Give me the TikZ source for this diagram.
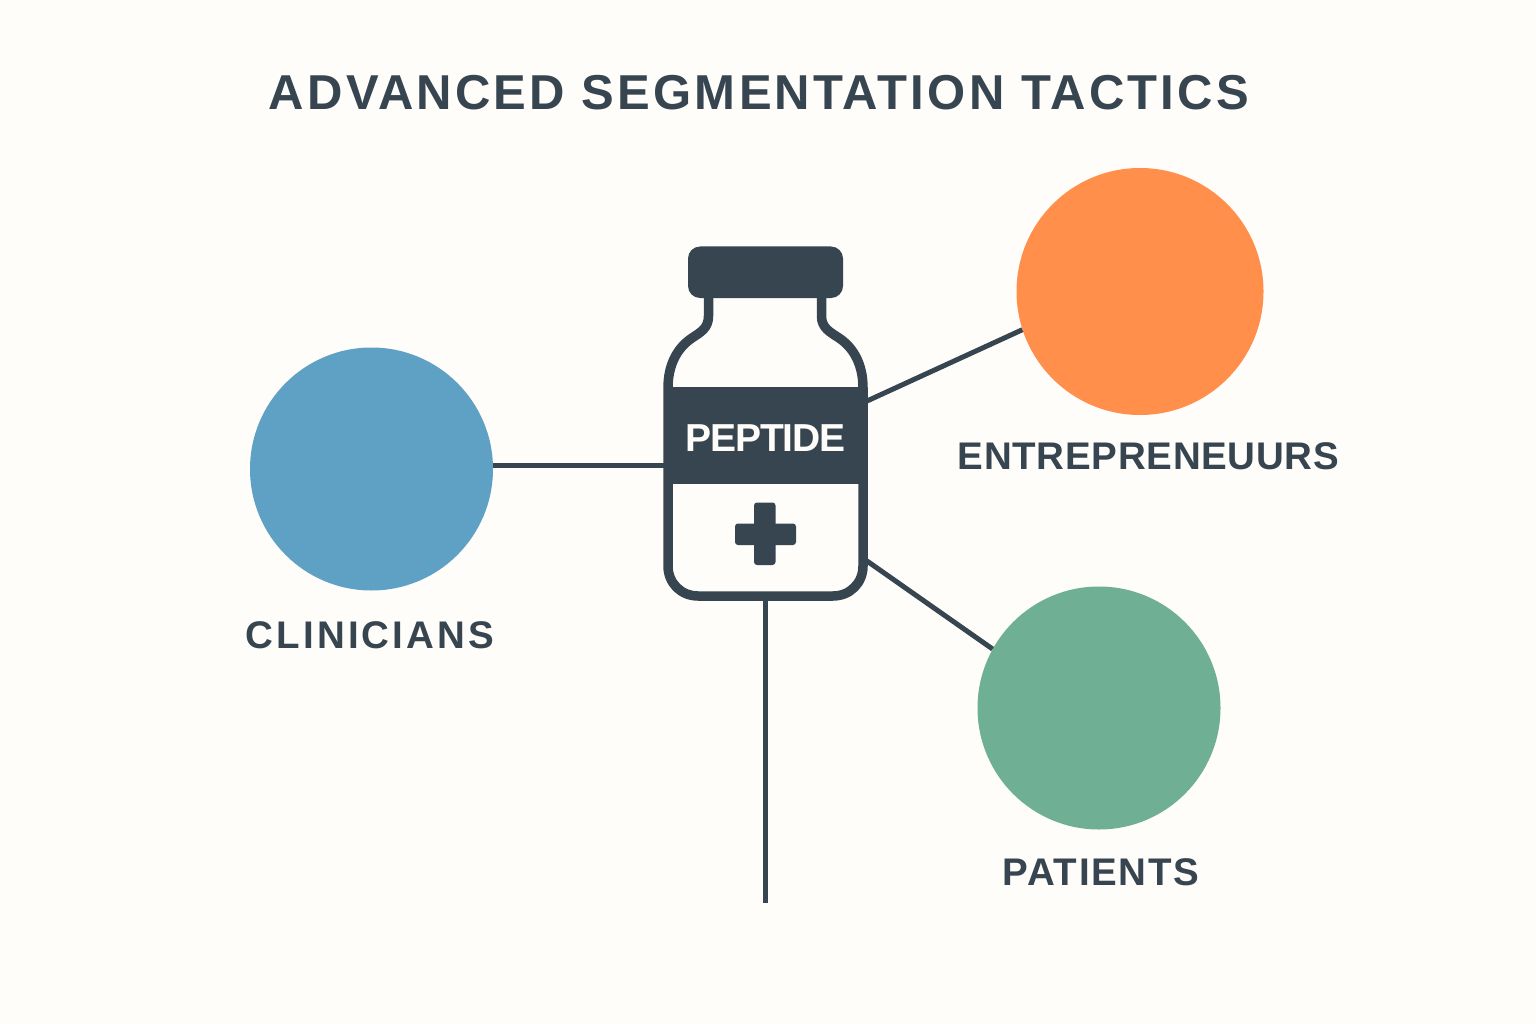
\documentclass[tikz,border=0pt]{standalone}
\usepackage{fontspec}
\setmainfont{Liberation Sans}
\newfontfamily\titlefont[LetterSpace=6.5]{Liberation Sans Bold}
\newfontfamily\groupfont{Liberation Sans Bold}
\newfontfamily\vialfont[LetterSpace=-3]{Liberation Sans Bold}
\definecolor{vialdark}{RGB}{54,69,79}
\definecolor{paperbg}{RGB}{255,253,249}
\definecolor{groupblue}{RGB}{95,161,196}
\definecolor{grouporange}{RGB}{255,143,74}
\definecolor{groupgreen}{RGB}{111,175,148}
\tikzset{
    group/.style={circle, inner sep=0pt, minimum size=#1},
    grouplabel/.style={text=vialdark, font=\groupfont\fontsize{38.5}{38.5}\selectfont\addfontfeature{LetterSpace=#1}, inner sep=0pt},
    link/.style={draw=vialdark, line width=5pt}
}
\begin{document}
\begin{tikzpicture}[x=1pt, y=-1pt]
    \useasboundingbox[fill=paperbg] (0,0) rectangle (1536,1024);

    % Title
    \node[text=vialdark, font=\titlefont\fontsize{49}{49}\selectfont, inner sep=0pt] (title) at (759,93) {ADVANCED SEGMENTATION TACTICS};

    % Groups
    \node[group=243pt, fill=groupblue] (clinicians) at (371.5,469) {};
    \node[group=247pt, fill=grouporange] (entrepreneurs) at (1140,291.5) {};
    \node[group=243pt, fill=groupgreen] (patients) at (1099,708) {};

    % Labels
    \node[grouplabel=8] (cliniciansname) at (370,635) {CLINICIANS};
    \node[grouplabel=1.8] (entrepreneursname) at (1148.5,456) {ENTREPRENEUURS};
    \node[grouplabel=4.6] (patientsname) at (1101,872) {PATIENTS};

    % Vial ports
    \coordinate (portw) at (664,465);
    \coordinate (portne) at (867,401);
    \coordinate (portse) at (867,561);
    \coordinate (ports) at (765,600);
    \coordinate (vialfoot) at (765,902.5);

    % Connectors
    \draw[link] (clinicians.east |- portw) -- (portw);
    \draw[link] (entrepreneurs.198) -- (portne);
    \draw[link] (patients.151) -- (portse);
    \draw[link] (ports) -- (vialfoot);

    % Vial
    \draw[vialdark, line width=9.5pt, fill=paperbg, line join=round]
        (708.5,296) -- (708.5,316) .. controls (708.5,328) and (701,332) .. (692,338)
        .. controls (677,348) and (668,365) .. (668,388) -- (668,566)
        .. controls (668,583) and (681,596) .. (698,596) -- (833,596)
        .. controls (850,596) and (863,583) .. (863,566) -- (863,388)
        .. controls (863,365) and (854,348) .. (839,338)
        .. controls (830,332) and (821.5,328) .. (821.5,316) -- (821.5,296);
    \fill[vialdark, rounded corners=12pt] (688,246.5) rectangle (843,298);
    \fill[vialdark] (668,386.5) rectangle (863,484);
    \node[text=paperbg, font=\vialfont\fontsize{39}{39}\selectfont, inner sep=0pt] (vialname) at (765.5,438) {PEPTIDE};

    % Cross
    \fill[vialdark, rounded corners=3pt] (735,523.5) rectangle (796,545);
    \fill[vialdark, rounded corners=3pt] (754,502.5) rectangle (775.5,565);
\end{tikzpicture}
\end{document}
